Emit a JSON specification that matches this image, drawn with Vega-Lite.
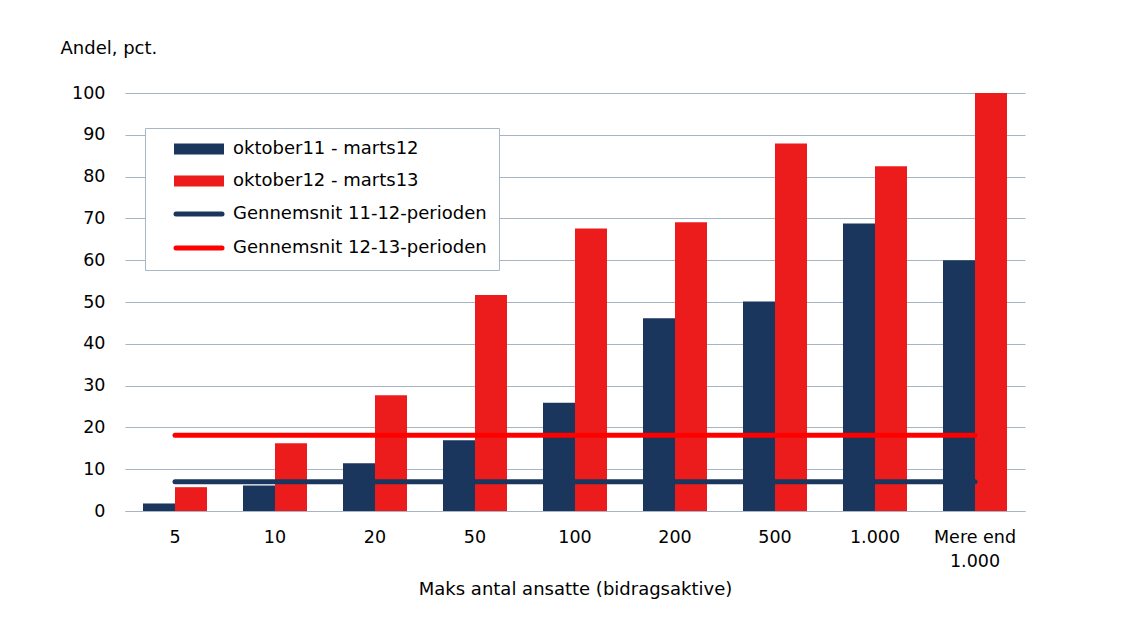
{
  "$schema": "https://vega.github.io/schema/vega-lite/v6.json",
  "width": 900,
  "height": 418,
  "autosize": "none",
  "padding": {"left": 125, "top": 93, "right": 106, "bottom": 123},
  "background": "white",
  "config": {
    "font": "DejaVu Sans",
    "view": {"stroke": null},
    "axis": {"labelFont": "DejaVu Sans", "titleFont": "DejaVu Sans", "labelColor": "#000000", "titleColor": "#000000", "labelFontSize": 17.5, "titleFontSize": 18, "titleFontWeight": "normal"},
    "legend": {"labelFont": "DejaVu Sans", "labelFontSize": 18, "labelColor": "#000000", "labelLimit": 400}
  },
  "datasets": {
    "bars": [
      {"kategori": "5", "serie": "oktober11 - marts12", "andel": 1.8},
      {"kategori": "5", "serie": "oktober12 - marts13", "andel": 5.7},
      {"kategori": "10", "serie": "oktober11 - marts12", "andel": 6.1},
      {"kategori": "10", "serie": "oktober12 - marts13", "andel": 16.2},
      {"kategori": "20", "serie": "oktober11 - marts12", "andel": 11.4},
      {"kategori": "20", "serie": "oktober12 - marts13", "andel": 27.7},
      {"kategori": "50", "serie": "oktober11 - marts12", "andel": 16.9},
      {"kategori": "50", "serie": "oktober12 - marts13", "andel": 51.7},
      {"kategori": "100", "serie": "oktober11 - marts12", "andel": 25.9},
      {"kategori": "100", "serie": "oktober12 - marts13", "andel": 67.6},
      {"kategori": "200", "serie": "oktober11 - marts12", "andel": 46.1},
      {"kategori": "200", "serie": "oktober12 - marts13", "andel": 69.1},
      {"kategori": "500", "serie": "oktober11 - marts12", "andel": 50.1},
      {"kategori": "500", "serie": "oktober12 - marts13", "andel": 87.9},
      {"kategori": "1.000", "serie": "oktober11 - marts12", "andel": 68.8},
      {"kategori": "1.000", "serie": "oktober12 - marts13", "andel": 82.5},
      {"kategori": "Mere end 1.000", "serie": "oktober11 - marts12", "andel": 60.0},
      {"kategori": "Mere end 1.000", "serie": "oktober12 - marts13", "andel": 100.0}
    ],
    "gennemsnit": [
      {"kategori": "5", "serie": "Gennemsnit 11-12-perioden", "andel": 7.0},
      {"kategori": "Mere end 1.000", "serie": "Gennemsnit 11-12-perioden", "andel": 7.0},
      {"kategori": "5", "serie": "Gennemsnit 12-13-perioden", "andel": 18.1},
      {"kategori": "Mere end 1.000", "serie": "Gennemsnit 12-13-perioden", "andel": 18.1}
    ]
  },
  "encoding": {
    "x": {
      "field": "kategori", "type": "nominal",
      "sort": ["5", "10", "20", "50", "100", "200", "500", "1.000", "Mere end 1.000"],
      "scale": {"domain": ["5", "10", "20", "50", "100", "200", "500", "1.000", "Mere end 1.000"], "paddingInner": 0.36, "paddingOuter": 0.18},
      "axis": {
        "title": "Maks antal ansatte (bidragsaktive)",
        "labelAngle": 0,
        "ticks": false,
        "domain": true,
        "domainColor": "#a6b4c4",
        "labelPadding": 17,
        "labelLineHeight": 24,
        "labelExpr": "datum.label == 'Mere end 1.000' ? ['Mere end', '1.000'] : datum.label",
        "titlePadding": 11
      }
    },
    "y": {
      "field": "andel", "type": "quantitative",
      "scale": {"domain": [0, 100], "nice": false},
      "axis": {
        "title": "Andel, pct.",
        "values": [0, 10, 20, 30, 40, 50, 60, 70, 80, 90, 100],
        "ticks": false,
        "domain": false,
        "gridColor": "#a6b4c4",
        "gridWidth": 1,
        "labelPadding": 20,
        "titleAngle": 0,
        "titleAlign": "left",
        "titleBaseline": "middle",
        "titleX": -65,
        "titleY": -45
      }
    },
    "color": {
      "field": "serie", "type": "nominal",
      "scale": {
        "domain": ["oktober11 - marts12", "oktober12 - marts13", "Gennemsnit 11-12-perioden", "Gennemsnit 12-13-perioden"],
        "range": ["#1b365d", "#ec1c1c", "#1b365d", "#fe0000"]
      },
      "legend": {
        "title": null,
        "orient": "none",
        "legendX": 20,
        "legendY": 35,
        "padding": 12,
        "strokeColor": "#a9b6c4",
        "fillColor": "white",
        "symbolSize": 400,
        "symbolOffset": 33,
        "labelOffset": 25,
        "rowPadding": 14,
        "encode": {
          "symbols": {
            "update": {
              "shape": {"signal": "test(/Gennemsnit/, datum.value) ? 'M-2.3,0H2.3' : 'M-2.5,-0.55H2.5V0.55H-2.5Z'"},
              "fill": {"signal": "test(/Gennemsnit/, datum.value) ? 'transparent' : scale('color', datum.value)"},
              "stroke": {"signal": "scale('color', datum.value)"},
              "strokeWidth": {"signal": "test(/Gennemsnit/, datum.value) ? 5 : 0"},
              "strokeCap": {"value": "round"},
              "opacity": {"value": 1},
              "fillOpacity": {"value": 1},
              "strokeOpacity": {"value": 1}
            }
          }
        }
      }
    }
  },
  "layer": [
    {
      "data": {"name": "bars"},
      "mark": {"type": "bar"},
      "encoding": {
        "xOffset": {"field": "serie", "type": "nominal", "scale": {"domain": ["oktober11 - marts12", "oktober12 - marts13"], "paddingInner": 0, "paddingOuter": 0}}
      }
    },
    {
      "data": {"name": "gennemsnit"},
      "mark": {"type": "line", "strokeWidth": 5, "strokeCap": "round"},
      "encoding": {"detail": {"field": "serie"}}
    }
  ]
}
